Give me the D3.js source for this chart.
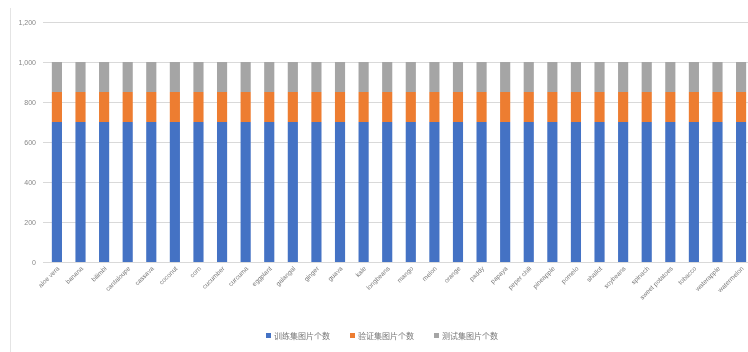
<!DOCTYPE html>
<html lang="zh">
<head>
    <meta charset="UTF-8">
    <title>Dataset split</title>
    <script src="https://cdnjs.cloudflare.com/ajax/libs/d3/7.8.5/d3.min.js"></script>
    <style>
        body { margin: 0; background: #fff; }
        svg { display: block; filter: blur(0.5px); }
    </style>
</head>
<body>
    <div id="chart"></div>
    <script>
        var w = 748;
        var h = 352;

        // class names along the x axis
        var categories = [
            "aloe vera", "banana", "bilimbi", "cantaloupe", "cassava", "coconut",
            "corn", "cucumber", "curcuma", "eggplant", "galangal", "ginger",
            "guava", "kale", "longbeans", "mango", "melon", "orange",
            "paddy", "papaya", "peper chili", "pineapple", "pomelo", "shallot",
            "soybeans", "spinach", "sweet potatoes", "tobacco", "waterapple", "watermelon"
        ];

        // images per class for each split
        var trainCounts = [700, 700, 700, 700, 700, 700, 700, 700, 700, 700,
                           700, 700, 700, 700, 700, 700, 700, 700, 700, 700,
                           700, 700, 700, 700, 700, 700, 700, 700, 700, 700];
        var valCounts = [150, 150, 150, 150, 150, 150, 150, 150, 150, 150,
                         150, 150, 150, 150, 150, 150, 150, 150, 150, 150,
                         150, 150, 150, 150, 150, 150, 150, 150, 150, 150];
        var testCounts = [150, 150, 150, 150, 150, 150, 150, 150, 150, 150,
                          150, 150, 150, 150, 150, 150, 150, 150, 150, 150,
                          150, 150, 150, 150, 150, 150, 150, 150, 150, 150];

        var seriesNames = ["训练集图片个数", "验证集图片个数", "测试集图片个数"];
        var colors = ["#4472C4", "#ED7D31", "#A5A5A5"];
        var yTicks = [0, 200, 400, 600, 800, 1000, 1200];

        var rows = categories.map(function (c, i) {
            return { name: c, s0: trainCounts[i], s1: valCounts[i], s2: testCounts[i] };
        });
        var stacked = d3.stack().keys(["s0", "s1", "s2"])(rows);

        var svg = d3.select("#chart").append("svg")
            .attr("width", w)
            .attr("height", h);

        // left chart border
        svg.append("line")
            .attr("x1", 10.5).attr("x2", 10.5)
            .attr("y1", 8).attr("y2", h)
            .attr("stroke", "#e4e4e4");

        var x = d3.scaleBand()
            .domain(categories)
            .range([45, 753])
            .paddingInner(0.57)
            .paddingOuter(0.29);

        var y = d3.scaleLinear()
            .domain([0, 1200])
            .range([262, 22]);

        // gridlines
        svg.append("g")
            .selectAll("line")
            .data(yTicks)
            .enter()
            .append("line")
            .attr("x1", 43)
            .attr("x2", w)
            .attr("y1", function (d) { return Math.round(y(d)) + 0.5; })
            .attr("y2", function (d) { return Math.round(y(d)) + 0.5; })
            .attr("stroke", "#d9d9d9");

        // y labels
        svg.append("g")
            .selectAll("text")
            .data(yTicks)
            .enter()
            .append("text")
            .attr("x", 36)
            .attr("y", function (d) { return y(d) + 2.5; })
            .attr("text-anchor", "end")
            .attr("font-family", "Liberation Sans, sans-serif")
            .attr("font-size", "7px")
            .attr("fill", "#888")
            .text(function (d) { return d3.format(",")(d); });

        // stacked bars
        svg.append("g")
            .selectAll("g")
            .data(stacked)
            .enter()
            .append("g")
            .attr("fill", function (d, i) { return colors[i]; })
            .selectAll("rect")
            .data(function (d) { return d; })
            .enter()
            .append("rect")
            .attr("x", function (d) { return x(d.data.name); })
            .attr("y", function (d) { return y(d[1]); })
            .attr("height", function (d) { return y(d[0]) - y(d[1]); })
            .attr("width", x.bandwidth());

        // x labels rotated
        svg.append("g")
            .selectAll("text")
            .data(categories)
            .enter()
            .append("text")
            .attr("transform", function (d) {
                var cx = x(d) + x.bandwidth() / 2 + 3;
                return "translate(" + cx + ",269) rotate(-45)";
            })
            .attr("text-anchor", "end")
            .attr("font-family", "Liberation Sans, sans-serif")
            .attr("font-size", "6.5px")
            .attr("fill", "#777")
            .text(function (d) { return d; });

        // legend
        var legendX = [266, 350, 434];
        var legend = svg.append("g")
            .selectAll("g")
            .data(seriesNames)
            .enter()
            .append("g")
            .attr("transform", function (d, i) { return "translate(" + legendX[i] + ",336)"; });
        legend.append("rect")
            .attr("x", 0).attr("y", -3)
            .attr("width", 5).attr("height", 5)
            .attr("fill", function (d, i) { return colors[i]; });
        legend.append("text")
            .attr("x", 8).attr("y", 2.5)
            .attr("font-family", "Noto Sans CJK SC, sans-serif")
            .attr("font-size", "8px")
            .attr("fill", "#777")
            .text(function (d) { return d; });
    </script>
</body>
</html>
